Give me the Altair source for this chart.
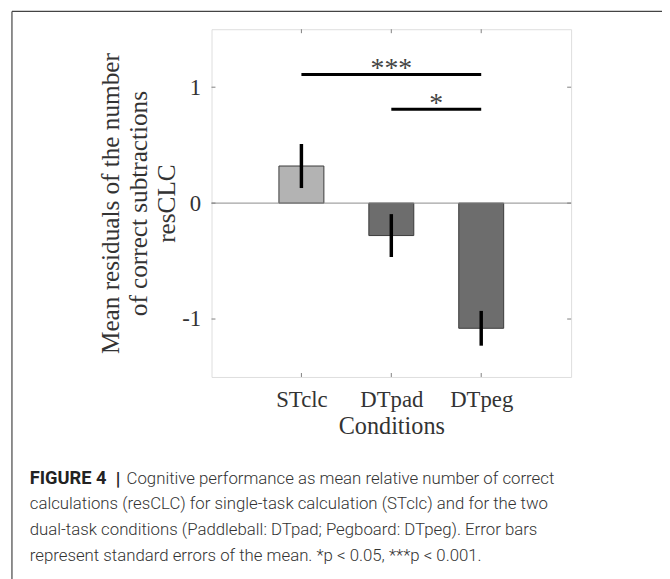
import altair as alt
import pandas as pd

# ---- data ----
conditions = ["STclc", "DTpad", "DTpeg"]
means = [0.32, -0.28, -1.08]
sem = [0.19, 0.185, 0.15]
bar_colors = ["#b3b3b3", "#6d6d6d", "#6d6d6d"]
y_tick_values = [-1, 0, 1]
sig_from = ["STclc", "DTpad"]
sig_to = ["DTpeg", "DTpeg"]
sig_level = [1.11, 0.81]
sig_label = ["***", "*"]
y_title = ["Mean residuals of the number", "of correct subtractions", "resCLC"]
x_title = "Conditions"
caption_bold = "FIGURE 4"
caption_sep = "|"
caption_lines = [
    "Cognitive performance as mean relative number of correct",
    "calculations (resCLC) for single-task calculation (STclc) and for the two",
    "dual-task conditions (Paddleball: DTpad; Pegboard: DTpeg). Error bars",
    "represent standard errors of the mean. *p < 0.05, ***p < 0.001.",
]

# ---- layout / style ----
W, H = 364, 352
BAR_WIDTH = 0.5
SERIF = "Liberation Serif"
SANS = "Roboto"
TXT = "#333333"
FRAME = "#7f7f7f"

pos = {c: i + 1 for i, c in enumerate(conditions)}
bars = pd.DataFrame({
    "cond": conditions,
    "pos": [pos[c] for c in conditions],
    "lo": [pos[c] - BAR_WIDTH / 2 for c in conditions],
    "hi": [pos[c] + BAR_WIDTH / 2 for c in conditions],
    "mean": means,
    "e_lo": [m - s for m, s in zip(means, sem)],
    "e_hi": [m + s for m, s in zip(means, sem)],
    "color": bar_colors,
})
sig = pd.DataFrame({
    "x1": [pos[c] for c in sig_from],
    "x2": [pos[c] for c in sig_to],
    "mid": [(pos[a] + pos[b]) / 2 for a, b in zip(sig_from, sig_to)],
    "y": sig_level,
    "label": sig_label,
})
yt = pd.DataFrame({"v": y_tick_values})
one = pd.DataFrame({"a": [0]})

label_arr = "[''," + ",".join("'%s'" % c for c in conditions) + ",'']"
xscale = alt.Scale(domain=[0, len(conditions) + 1], nice=False, zero=False)
yscale = alt.Scale(domain=[-1.5, 1.5], nice=False, zero=False)

xaxis = alt.Axis(
    values=[pos[c] for c in conditions], labelExpr=label_arr + "[datum.value]",
    ticks=False, domain=False, grid=False, labelFont=SERIF, labelFontSize=23,
    labelColor=TXT, labelPadding=12, title=x_title, titleFont=SERIF,
    titleFontSize=24.5, titleFontWeight="normal", titleColor=TXT,
    titleBaseline="alphabetic", titleY=57,
)
yaxis = alt.Axis(
    values=y_tick_values, labelExpr="datum.value + ''", ticks=False,
    domain=False, grid=False, labelFont=SERIF, labelFontSize=23,
    labelColor=TXT, labelPadding=11, title=y_title, titleFont=SERIF,
    titleFontSize=25.5, titleFontWeight="normal", titleColor=TXT,
    titleAngle=270, titleBaseline="alphabetic", titleAlign="center",
    titleX=-94, titleY=H / 2, titleLineHeight=28.5,
)

bar = alt.Chart(bars).mark_bar(stroke="#3a3a3a", strokeWidth=1).encode(
    x=alt.X("lo:Q", scale=xscale, axis=xaxis),
    x2="hi:Q",
    y=alt.Y("mean:Q", scale=yscale, axis=yaxis),
    y2=alt.datum(0),
    color=alt.Color("color:N", scale=None),
)
zero = alt.Chart(one).mark_rule(color="#8a8a8a", strokeWidth=1).encode(
    y=alt.Y("a:Q", scale=yscale),
)
err = alt.Chart(bars).mark_rule(color="black", strokeWidth=3.5).encode(
    x=alt.X("pos:Q", scale=xscale), y=alt.Y("e_lo:Q", scale=yscale), y2="e_hi:Q"
)
sig_lines = alt.Chart(sig).mark_rule(color="black", strokeWidth=3).encode(
    x=alt.X("x1:Q", scale=xscale), x2="x2:Q", y=alt.Y("y:Q", scale=yscale)
)
sig_text = alt.Chart(sig).mark_text(
    font=SERIF, fontSize=28, color="#444444", baseline="alphabetic", dy=3
).encode(x=alt.X("mid:Q", scale=xscale), y=alt.Y("y:Q", scale=yscale), text="label:N")

tick_len = 4
ticks_left = alt.Chart(yt).mark_rule(color=FRAME, strokeWidth=1).encode(
    x=alt.value(0), x2=alt.value(tick_len), y=alt.Y("v:Q", scale=yscale))
ticks_right = alt.Chart(yt).mark_rule(color=FRAME, strokeWidth=1).encode(
    x=alt.value(W - tick_len), x2=alt.value(W), y=alt.Y("v:Q", scale=yscale))
ticks_top = alt.Chart(bars).mark_rule(color=FRAME, strokeWidth=1).encode(
    x=alt.X("pos:Q", scale=xscale), y=alt.value(0), y2=alt.value(tick_len))
ticks_bot = alt.Chart(bars).mark_rule(color=FRAME, strokeWidth=1).encode(
    x=alt.X("pos:Q", scale=xscale), y=alt.value(H - tick_len), y2=alt.value(H))

# outer figure frame (page coords minus plot origin 214,26)
frame_top = alt.Chart(one).mark_rule(color="#444444", strokeWidth=1.2).encode(
    x=alt.value(-202), x2=alt.value(470), y=alt.value(-18))
frame_left = alt.Chart(one).mark_rule(color="#444444", strokeWidth=1.2).encode(
    x=alt.value(-202), y=alt.value(-18), y2=alt.value(560))

cap_x = -184
cap_y0 = 460
cap_dy = 26
cap_size = 17
cap_layers = [
    alt.Chart(one).mark_text(font=SANS, fontSize=18.5, fontWeight="bold",
                             color="#222222", align="left", baseline="alphabetic").encode(
        x=alt.value(cap_x), y=alt.value(cap_y0), text=alt.value(caption_bold)),
    alt.Chart(one).mark_text(font=SANS, fontSize=18.5, fontWeight="bold",
                             color="#222222", align="left", baseline="alphabetic").encode(
        x=alt.value(cap_x + 87), y=alt.value(cap_y0 + 1), text=alt.value(caption_sep)),
]
for i, line in enumerate(caption_lines):
    x0 = cap_x + (98 if i == 0 else 0)
    cap_layers.append(
        alt.Chart(one).mark_text(font=SANS, fontSize=cap_size, fontWeight=300,
                                 color="#333333", align="left", baseline="alphabetic").encode(
            x=alt.value(x0), y=alt.value(cap_y0 + i * cap_dy), text=alt.value(line))
    )

chart = alt.layer(
    bar, zero, err, sig_lines, sig_text,
    ticks_left, ticks_right, ticks_top, ticks_bot,
    frame_top, frame_left, *cap_layers,
).properties(
    width=W, height=H,
    padding={"left": 206, "top": 18, "right": 92, "bottom": 201},
    autosize=alt.AutoSizeParams(type="none"),
).configure_view(stroke=FRAME, strokeWidth=1.5).configure(background="white")

chart.save("out.html", embed_options={"renderer": "svg", "actions": False})
